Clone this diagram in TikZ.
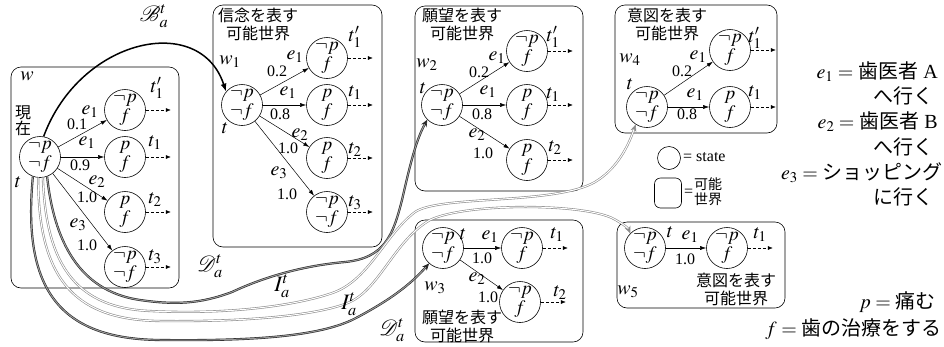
\documentclass[tikz,border=0pt]{standalone}
\usepackage{mathptmx}
\usepackage{fontspec}
\setmainfont{Liberation Serif}
\newfontfamily\jp{Noto Sans CJK JP}
\usetikzlibrary{arrows.meta}
\newcommand\myNPF{$\neg p$\\$f$}
\newcommand\myPF{$p$\\$f$}
\newcommand\myNPNF{$\neg p$\\$\neg f$}
\begin{document}
\begin{tikzpicture}[x=1pt,y=-1pt,
  st/.style={circle,draw,line width=0.6pt,minimum size=41pt,inner sep=0pt,align=center,font=\fontsize{19}{19}\selectfont},
  wbox/.style={draw,rounded corners=10pt,line width=0.6pt,inner sep=0pt},
  tr/.style={line width=0.5pt,-{Latex[length=6pt,width=4pt]}},
  nx/.style={line width=0.5pt,dash pattern=on 3pt off 2pt,-{Latex[length=5pt,width=4pt]}},
  el/.style={inner sep=0pt,font=\fontsize{20}{20}\selectfont},
  pl/.style={inner sep=0pt,font=\fontsize{16}{16}\selectfont},
  tl/.style={inner sep=0pt,font=\fontsize{20}{20}\selectfont},
  cl/.style={inner sep=0pt,font=\fontsize{22}{22}\selectfont},
  ttl/.style={inner sep=0pt,align=center,font=\jp\fontsize{16}{18}\selectfont},
  dcur/.style={draw=black!85,double=black!40,line width=0.6pt,double distance=1pt,-{Stealth[length=7pt,width=6pt]}},
  icur/.style={draw=black!45,double=white,line width=0.6pt,double distance=1pt,-{Stealth[length=7pt,width=6pt]}},
  rt/.style={inner sep=0pt,anchor=east,font=\fontsize{20}{20}\selectfont},
]
\useasboundingbox (0,0) rectangle (944,346);

% boxes
\node[wbox,minimum width=168pt,minimum height=221pt] (bw) at (95,177.5) {};
\node[wbox,minimum width=169pt,minimum height=242pt] (bw1) at (297.5,126) {};
\node[wbox,minimum width=168pt,minimum height=185pt] (bw2) at (499,98.5) {};
\node[wbox,minimum width=162pt,minimum height=128pt] (bw4) at (696,69) {};
\node[wbox,minimum width=168pt,minimum height=122pt] (bw3) at (499,281) {};
\node[wbox,minimum width=168pt,minimum height=86pt] (bw5) at (701,265) {};

% titles
\node[ttl] (tt1) at (258,24) {信念を表す\\可能世界};
\node[ttl] (tt2) at (462,24) {願望を表す\\可能世界};
\node[ttl] (tt4) at (667,24) {意図を表す\\可能世界};
\node[ttl] (tt3) at (462,326) {願望を表す\\可能世界};
\node[ttl] (tt5) at (736,289) {意図を表す\\可能世界};
\node[ttl,font=\jp\fontsize{16}{16}\selectfont] (now) at (23,121) {現\\在};

% world w
\node[st] (m0) at (40,157) {\myNPNF};
\node[st] (a1) at (125,110) {\myNPF};
\node[st] (a2) at (125,157) {\myPF};
\node[st] (a3) at (125,212) {\myPF};
\node[st] (a4) at (125,267) {\myNPNF};
\foreach \n in {a1,a2,a3,a4} {\draw[tr] (m0) -- (\n); \draw[nx] (\n.east) -- ++(25,0);}
\node[el] (ea1) at (90,112) {$e_1$};
\node[pl] (pa1) at (77,124) {0.1};
\node[el] (ea2) at (87,143) {$e_1$};
\node[pl] (pa2) at (80,165) {0.9};
\node[el] (ea3) at (97,182) {$e_2$};
\node[pl] (pa3) at (87,197) {1.0};
\node[el] (ea4) at (78,225) {$e_3$};
\node[pl] (pa4) at (87,245) {1.0};
\node[tl] (lw) at (27,76) {$w$};
\node[tl] (lt0) at (18,182) {$t$};
\node[tl] (lta1) at (157,88) {$t'_1$};
\node[tl] (lta2) at (155,143) {$t_1$};
\node[tl] (lta3) at (155,200) {$t_2$};
\node[tl] (lta4) at (155,257) {$t_3$};

% world w1
\node[st] (m1) at (242,105) {\myNPNF};
\node[st] (b1) at (327,58) {\myNPF};
\node[st] (b2) at (327,105) {\myPF};
\node[st] (b3) at (327,158) {\myPF};
\node[st] (b4) at (327,212) {\myNPNF};
\foreach \n in {b1,b2,b3,b4} {\draw[tr] (m1) -- (\n); \draw[nx] (\n.east) -- ++(25,0);}
\node[el] (eb1) at (295,57) {$e_1$};
\node[pl] (pb1) at (277,71) {0.2};
\node[el] (eb2) at (288,93) {$e_1$};
\node[pl] (pb2) at (280,114) {0.8};
\node[el] (eb3) at (300,135) {$e_2$};
\node[pl] (pb3) at (288,148) {1.0};
\node[el] (eb4) at (279,173) {$e_3$};
\node[pl] (pb4) at (287,194) {1.0};
\node[tl] (lw1) at (230,62) {$w_1$};
\node[tl] (lt1) at (225,128) {$t$};
\node[tl] (ltb1) at (355,37) {$t'_1$};
\node[tl] (ltb2) at (355,93) {$t_1$};
\node[tl] (ltb3) at (355,150) {$t_2$};
\node[tl] (ltb4) at (355,203) {$t_3$};

% world w2
\node[st] (m2) at (442,105) {\myNPNF};
\node[st] (c1) at (527,51) {\myNPF};
\node[st] (c2) at (527,105) {\myPF};
\node[st] (c3) at (527,160) {\myPF};
\foreach \n in {c1,c2,c3} {\draw[tr] (m2) -- (\n); \draw[nx] (\n.east) -- ++(25,0);}
\node[el] (ec1) at (497,58) {$e_1$};
\node[pl] (pc1) at (479,72) {0.2};
\node[el] (ec2) at (488,92) {$e_1$};
\node[pl] (pc2) at (482,114) {0.8};
\node[el] (ec3) at (477,135) {$e_2$};
\node[pl] (pc3) at (483,153) {1.0};
\node[tl] (lw2) at (427,65) {$w_2$};
\node[tl] (lt2) at (423,88) {$t$};
\node[tl] (ltc1) at (553,37) {$t'_1$};
\node[tl] (ltc2) at (553,95) {$t_1$};
\node[tl] (ltc3) at (555,148) {$t_2$};

% world w4
\node[st] (m4) at (647,107) {\myNPNF};
\node[st] (d1) at (730,50) {\myNPF};
\node[st] (d2) at (730,107) {\myPF};
\foreach \n in {d1,d2} {\draw[tr] (m4) -- (\n); \draw[nx] (\n.east) -- ++(25,0);}
\node[el] (ed1) at (698,57) {$e_1$};
\node[pl] (pd1) at (682,71) {0.2};
\node[el] (ed2) at (695,95) {$e_1$};
\node[pl] (pd2) at (687,114) {0.8};
\node[tl] (lw4) at (630,60) {$w_4$};
\node[tl] (lt4) at (630,84) {$t$};
\node[tl] (ltd1) at (755,38) {$t'_1$};
\node[tl] (ltd2) at (755,93) {$t_1$};

% world w3
\node[st] (m3) at (443,248) {\myNPNF};
\node[st] (g1) at (522,248) {\myNPF};
\node[st] (g2) at (520,302) {\myNPF};
\foreach \n in {g1,g2} {\draw[tr] (m3) -- (\n); \draw[nx] (\n.east) -- ++(25,0);}
\node[el] (eg1) at (490,237) {$e_1$};
\node[pl] (pg1) at (482,258) {1.0};
\node[el] (eg2) at (477,279) {$e_2$};
\node[pl] (pg2) at (488,297) {1.0};
\node[tl] (lw3) at (435,288) {$w_3$};
\node[tl] (lt3) at (463,234) {$t$};
\node[tl] (ltg1) at (557,235) {$t_1$};
\node[tl] (ltg2) at (560,293) {$t_2$};

% world w5
\node[st] (m5) at (645,248) {\myNPNF};
\node[st] (h1) at (727,248) {\myNPF};
\draw[tr] (m5) -- (h1); \draw[nx] (h1.east) -- ++(25,0);
\node[el] (eh1) at (690,237) {$e_1$};
\node[pl] (ph1) at (685,259) {1.0};
\node[tl] (lw5) at (628,292) {$w_5$};
\node[tl] (lt5) at (670,232) {$t$};
\node[tl] (lth1) at (760,235) {$t_1$};

% accessibility curves
\draw[line width=1.5pt,-{Latex[length=8pt,width=6pt]}] (m0.80) .. controls (80,38) and (200,12) .. (m1.140);
\node[cl] (lB) at (154,16) {$\mathcal{B}_a^t$};
\draw[dcur] (m0.-70) .. controls (55,250) and (85,292) .. (140,300) .. controls (175,305) and (200,304) .. (232,292) .. controls (262,278) and (300,266) .. (345,262) .. controls (385,258) and (393,235) .. (402,200) .. controls (410,165) and (416,140) .. (m2.225);
\draw[icur] (m0.-82) .. controls (46,270) and (80,308) .. (150,311) .. controls (230,315) and (300,305) .. (335,292) .. controls (370,278) and (385,235) .. (415,212) .. controls (440,195) and (555,205) .. (595,182) .. controls (615,170) and (627,150) .. (m4.237);
\draw[icur] (m0.-95) .. controls (38,285) and (80,320) .. (160,321) .. controls (250,322) and (320,315) .. (350,302) .. controls (380,288) and (395,240) .. (430,220) .. controls (465,203) and (580,203) .. (612,218) .. controls (622,223) and (628,228) .. (m5.135);
\draw[dcur] (m0.-110) .. controls (22,290) and (60,339) .. (160,340) .. controls (250,341) and (320,337) .. (356,318) .. controls (390,300) and (410,285) .. (m3.228);
\node[cl] (lD1) at (210,266) {$\mathcal{D}_a^t$};
\node[cl] (lI1) at (282,286) {$I_a^t$};
\node[cl] (lI2) at (349,304) {$I_a^t$};
\node[cl] (lD2) at (392,330) {$\mathcal{D}_a^t$};

% legend
\node[circle,draw,minimum size=23pt,inner sep=0pt,line width=0.6pt] (lgc) at (669,158) {};
\node[anchor=west,inner sep=0pt,font=\fontsize{16}{16}\selectfont] (lgct) at (683,157) {= state};
\node[draw,rounded corners=6pt,minimum width=27pt,minimum height=30pt,line width=0.6pt] (lgb) at (668,193) {};
\node[anchor=west,inner sep=0pt,font=\fontsize{16}{16}\selectfont] (lgbe) at (684,193) {=};
\node[ttl,font=\jp\fontsize{14}{15}\selectfont] (lgbt) at (708,192) {可能\\世界};

% right texts
\node[rt] (r1) at (938,72) {$e_1 =$ {\jp 歯医者} A};
\node[rt] (r2) at (934,96) {\jp へ行く};
\node[rt] (r3) at (938,122) {$e_2 =$ {\jp 歯医者} B};
\node[rt] (r4) at (934,147) {\jp へ行く};
\node[rt] (r5) at (943,173) {$e_3 =$ {\jp ショッピング}};
\node[rt] (r6) at (934,197) {\jp に行く};
\node[rt] (r7) at (936,302) {$p =$ {\jp 痛む}};
\node[rt] (r8) at (942,329) {$f =$ {\jp 歯の治療をする}};
\end{tikzpicture}
\end{document}
